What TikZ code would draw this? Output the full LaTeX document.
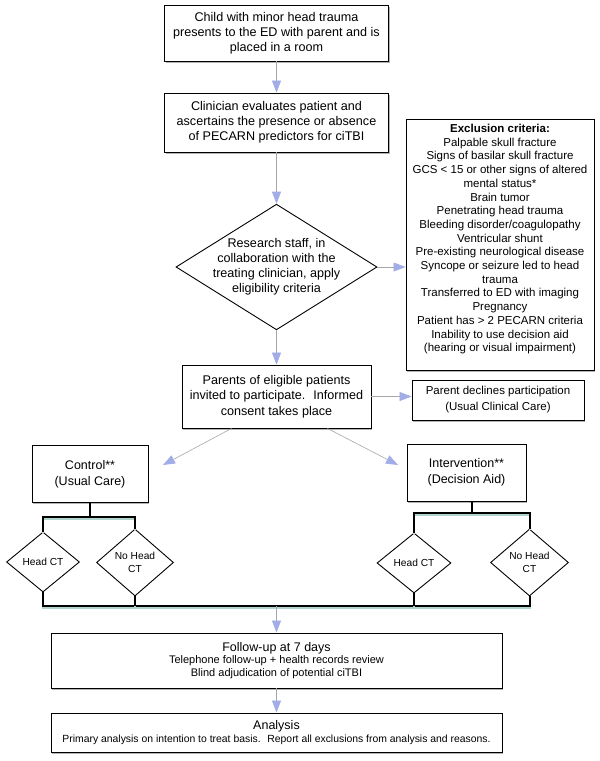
\documentclass[tikz,border=0pt]{standalone}
\usepackage{fontspec}
\setmainfont{Liberation Sans}
\usepackage{tikz}
\usetikzlibrary{shapes.geometric,arrows.meta,shadows,calc}
\definecolor{tipblue}{RGB}{162,172,230}
\definecolor{linkgray}{RGB}{165,165,172}
\definecolor{barshade}{RGB}{175,212,206}

\begin{document}
\begin{tikzpicture}[x=1pt,y=-1pt]
    \tikzstyle{flowbox} = [rectangle, draw, line width=0.9pt, fill=white, align=center, inner sep=0pt, drop shadow={shadow xshift=1pt, shadow yshift=-1.5pt, fill=black!50, opacity=0.6}]
    \tikzstyle{bigdecision} = [diamond, draw, line width=0.9pt, fill=white, align=center, aspect=1.6, inner xsep=-7pt, inner ysep=-1pt, minimum width=193pt, minimum height=120pt, font=\fontsize{12.6}{15}\selectfont]
    \tikzstyle{ctdecision} = [diamond, draw, line width=0.9pt, fill=white, align=center, inner sep=0pt, font=\fontsize{10.2}{12.7}\selectfont]
    \tikzstyle{flowarrow} = [linkgray, line width=0.6pt, -{Triangle[length=12pt, width=9pt, color=tipblue]}]
    \tikzstyle{branchline} = [line width=2pt, line join=miter, preaction={draw=barshade, line width=2pt, transform canvas={yshift=-1.5pt}}]
    \useasboundingbox (0,0) rectangle (600,761);

    \node[flowbox, minimum width=224pt, minimum height=56pt, font=\fontsize{12.6}{15}\selectfont] (child) at (276.5,33) {Child with minor head trauma\\presents to the ED with parent and is\\placed in a room};
    \node[flowbox, minimum width=224pt, minimum height=59pt, font=\fontsize{12.6}{15}\selectfont] (clinician) at (276.5,122.5) {Clinician evaluates patient and\\ascertains the presence or absence\\of PECARN predictors for ciTBI};
    \node[bigdecision] (research) at (276.5,267) {Research staff, in\\collaboration with the\\treating clinician, apply\\eligibility criteria};
    \node[flowbox, minimum width=188pt, minimum height=251pt] (excl) at (500,244.5) {};
    \node[anchor=north, align=center, inner sep=0pt, font=\fontsize{11.5}{13.7}\selectfont] (excltext) at (500,124) {\textbf{Exclusion criteria:}\\Palpable skull fracture\\Signs of basilar skull fracture\\GCS < 15 or other signs of altered\\mental status*\\Brain tumor\\Penetrating head trauma\\Bleeding disorder/coagulopathy\\Ventricular shunt\\Pre-existing neurological disease\\Syncope or seizure led to head\\trauma\\Transferred to ED with imaging\\Pregnancy\\Patient has > 2 PECARN criteria\\Inability to use decision aid\\(hearing or visual impairment)};
    \node[flowbox, minimum width=189pt, minimum height=63pt, font=\fontsize{12.6}{15.5}\selectfont] (parents) at (276.5,396.5) {Parents of eligible patients\\invited to participate.~ Informed\\consent takes place};
    \node[flowbox, minimum width=172pt, minimum height=40pt, font=\fontsize{11.5}{16}\selectfont] (declines) at (498,400) {Parent declines participation\\(Usual Clinical Care)};
    \node[flowbox, minimum width=116pt, minimum height=57pt, font=\fontsize{12.5}{16}\selectfont] (control) at (90,474) {Control**\\(Usual Care)};
    \node[flowbox, minimum width=119pt, minimum height=57pt, font=\fontsize{12.5}{16}\selectfont] (intervention) at (466.5,472.5) {Intervention**\\(Decision Aid)};

    \node[ctdecision, minimum width=73pt, minimum height=60pt] (ctrlhead) at (43,562) {Head CT};
    \node[ctdecision, minimum width=77pt, minimum height=67pt] (ctrlnohead) at (135,562.5) {No Head\\CT};
    \node[ctdecision, minimum width=74pt, minimum height=60pt] (inthead) at (414,563) {Head CT};
    \node[ctdecision, minimum width=78pt, minimum height=67pt] (intnohead) at (529.5,562.5) {No Head\\CT};

    \node[flowbox, minimum width=451pt, minimum height=55pt, font=\fontsize{11}{12.5}\selectfont] (followup) at (276.5,660.5) {{\fontsize{12.5}{14}\selectfont Follow-up at 7 days}\\Telephone follow-up + health records review\\Blind adjudication of potential ciTBI};
    \node[flowbox, minimum width=451pt, minimum height=39pt, font=\fontsize{10.4}{12.5}\selectfont] (analysis) at (276.5,732.5) {{\fontsize{12.5}{14}\selectfont Analysis}\\Primary analysis on intention to treat basis.~ Report all exclusions from analysis and reasons.};

    \coordinate (ctrlin) at (163,465);
    \coordinate (intin) at (398,465);
    \coordinate (ctrlbar) at (90,517);
    \coordinate (intbar) at (472,513);
    \coordinate (merge) at (276.5,606);

    \draw[flowarrow] (child) -- (clinician);
    \draw[flowarrow] (clinician) -- (research);
    \draw[flowarrow] (research.east) -- (research.east -| excl.west);
    \draw[flowarrow] (research) -- (parents);
    \draw[flowarrow] (parents.east) -- (parents.east -| declines.west);
    \draw[flowarrow] ([xshift=-45pt]parents.south) -- (ctrlin);
    \draw[flowarrow] ([xshift=51pt]parents.south) -- (intin);

    \draw[branchline] (control.south) -- (ctrlbar);
    \draw[branchline] (ctrlhead.north) |- (ctrlbar) -| (ctrlnohead.north);
    \draw[branchline] (intbar |- intervention.south) -- (intbar);
    \draw[branchline] (inthead.north) |- (intbar) -| (intnohead.north);
    \draw[branchline] (ctrlhead.south) |- (merge) -| (intnohead.south);
    \draw[branchline] (ctrlnohead.south) -- (ctrlnohead.south |- merge);
    \draw[branchline] (inthead.south) -- (inthead.south |- merge);

    \draw[flowarrow] (merge) -- (followup);
    \draw[flowarrow] (followup) -- (analysis);
\end{tikzpicture}
\end{document}
